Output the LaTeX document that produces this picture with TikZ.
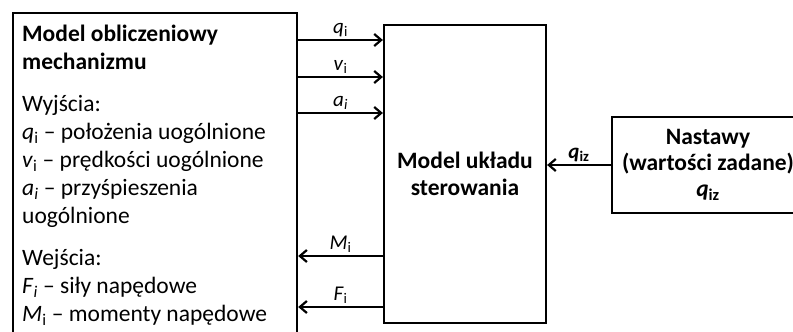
\documentclass[tikz,border=0pt]{standalone}
\usepackage{fontspec}
\setmainfont{Carlito}
\usetikzlibrary{arrows.meta}
\newcommand{\var}[2]{\textit{#1}\textsubscript{#2}}
\begin{document}
\begin{tikzpicture}[x=1pt, y=-1pt, >={Straight Barb[length=7pt,width=12pt]},
    box/.style={draw, line width=2.2pt, inner sep=0pt},
    sig/.style={line width=2.2pt},
    lab/.style={above, inner sep=2pt, font=\fontsize{21pt}{24pt}\selectfont}]
    \useasboundingbox (0,0) rectangle (793,332);
    \clip (0,0) rectangle (793,332);
    \node[box, anchor=north west, minimum width=284pt, minimum height=340pt] (mech) at (12,12) {};
    \node[anchor=north west, align=left, inner sep=0pt, font=\fontsize{23.5pt}{28pt}\selectfont] (opis) at (22,25)
        {\textbf{Model obliczeniowy}\\ \textbf{mechanizmu}\\[14pt]
         Wyjścia:\\ \var{q}{i} – położenia uogólnione\\ \var{v}{i} – prędkości uogólnione\\
         \var{a}{\textit{i}} – przyśpieszenia\\ uogólnione\\[14pt]
         Wejścia:\\ \var{F}{\textit{i}} – siły napędowe\\ \var{M}{i} – momenty napędowe};
    \node[box, minimum width=162pt, minimum height=298pt, align=center, font=\fontsize{23.5pt}{27pt}\selectfont\bfseries] (ster) at (465,174)
        {Model układu\\ sterowania};
    \node[box, minimum width=192pt, minimum height=96pt, align=center, font=\fontsize{23.5pt}{26pt}\selectfont\bfseries] (nast) at (708,165)
        {Nastawy\\ (wartości zadane)\\ \var{q}{iz}};

    \draw[sig,->] (mech.east |- 0,40) -- node[lab] {\var{q}{i}} (ster.west |- 0,40);
    \draw[sig,->] (mech.east |- 0,77) -- node[lab] {\var{v}{i}} (ster.west |- 0,77);
    \draw[sig,->] (mech.east |- 0,113) -- node[lab] {\var{a}{\textit{i}}} (ster.west |- 0,113);
    \draw[sig,->] (ster.west |- 0,256) -- node[lab] {\var{M}{i}} (mech.east |- 0,256);
    \draw[sig,->] (ster.west |- 0,307) -- node[lab] {\var{F}{i}} (mech.east |- 0,307);
    \draw[sig,->] (nast.west) -- node[lab] {\textbf{\var{q}{iz}}} (ster.east |- nast.west);
\end{tikzpicture}
\end{document}
